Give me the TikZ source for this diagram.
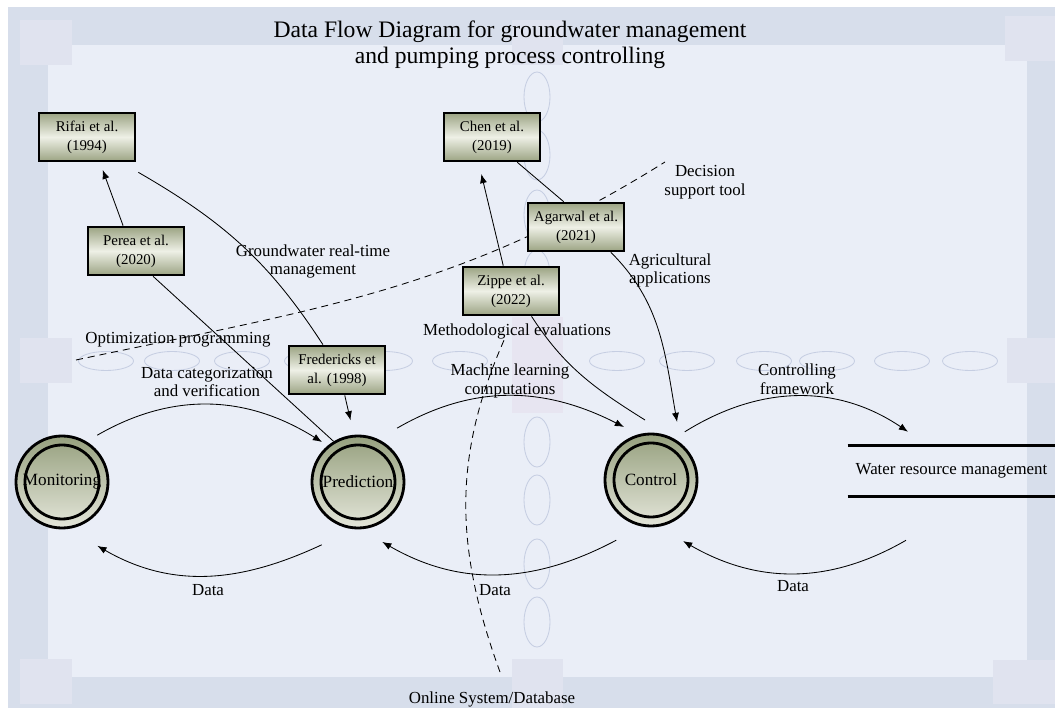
\documentclass[tikz,border=0pt]{standalone}
\usepackage{fontspec}
\setmainfont{Liberation Serif}
\usetikzlibrary{arrows.meta}

\definecolor{bandcol}{RGB}{215,222,235}
\definecolor{innercol}{RGB}{234,238,247}
\definecolor{squarecol}{RGB}{224,227,239}
\definecolor{centercol}{RGB}{231,229,241}
\definecolor{ovalcol}{RGB}{198,206,226}
\definecolor{boxdark}{RGB}{156,164,132}
\definecolor{boxlight}{RGB}{238,240,230}
\definecolor{ringdark}{RGB}{150,160,126}
\definecolor{ringlight}{RGB}{228,230,218}

\tikzset{
	ref/.style={draw=black, line width=1.9pt, minimum width=2.4cm, minimum height=1.2cm, inner sep=0pt,
		top color=boxdark, bottom color=boxdark, middle color=boxlight,
		align=center, font=\rmfamily\fontsize{10.6}{13.5}\selectfont},
	proc/.style={circle, draw=black, line width=2pt, minimum size=2.3cm, inner sep=0pt,
		top color=ringdark, bottom color=ringlight, font=\rmfamily\fontsize{12.2}{14}\selectfont,
		path picture={\draw[line width=2pt, top color=ringdark, bottom color=ringlight]
			(path picture bounding box.center) circle (0.925cm);}},
	flow/.style={line width=0.6pt, -{Latex[length=6.5pt,width=5pt]}},
	link/.style={line width=0.6pt},
	bound/.style={line width=0.6pt, dash pattern=on 5pt off 3.5pt},
	lbl/.style={align=center, inner sep=0pt, font=\rmfamily\fontsize{12}{13.2}\selectfont},
	store/.style={minimum width=5.175cm, minimum height=1.25cm, inner sep=0pt, font=\rmfamily\fontsize{12}{14}\selectfont},
	storeline/.style={line width=2pt},
	oval/.style={draw=ovalcol, line width=0.6pt}
}

\begin{document}
\begin{tikzpicture}[x=0.025cm,y=0.025cm]
	\useasboundingbox (0,0) rectangle (1055,-708);
	\fill[white] (0,0) rectangle (1055,-708);
	\fill[bandcol] (8,-7) rectangle (1055,-708);
	\fill[innercol] (48,-45) rectangle (1027,-677);
	\fill[squarecol] (20,-20) rectangle (72,-65);
	\fill[squarecol] (1005,-16) rectangle (1055,-61);
	\fill[squarecol] (20,-659) rectangle (72,-704);
	\fill[squarecol] (993,-660) rectangle (1055,-704);
	\fill[squarecol] (20,-338) rectangle (72,-383);
	\fill[squarecol] (1007,-338) rectangle (1055,-383);
	\fill[squarecol] (512,-20) rectangle (563,-65);
	\fill[squarecol] (512,-659) rectangle (563,-708);
	\fill[centercol] (512,-317) rectangle (563,-413);
	\foreach \ex in {106,172,242,312,385,460,617,687,764,827,902,970}
		\draw[oval] (\ex,-361) ellipse (27.5 and 9.5);
	\foreach \ey in {97,155,215,275,442,500,564,622}
		\draw[oval] (537,-\ey) ellipse (13 and 25);

	\node[lbl, font=\rmfamily\fontsize{16.8}{18.5}\selectfont] (title) at (510,-44.5) {Data Flow Diagram for groundwater management\\and pumping process controlling};

	\coordinate (optA) at (76,-360);
	\coordinate (optB) at (665,-162);
	\draw[bound] (optA) to[out=12,in=-148] (optB);
	\coordinate (dbA) at (500,-672);
	\coordinate (dbB) at (505,-338);
	\draw[bound] (dbA) to[out=110,in=-114] (dbB);

	\node[ref] (rifai) at (87,-137) {Rifai et al.\\(1994)};
	\node[ref] (perea) at (136,-251) {Perea et al.\\(2020)};
	\node[ref] (chen) at (492,-137) {Chen et al.\\(2019)};
	\node[ref] (agarwal) at (576,-227) {Agarwal et al.\\(2021)};
	\node[ref] (zippe) at (511,-291) {Zippe et al.\\(2022)};
	\node[ref] (fred) at (337,-370) {Fredericks et\\al. (1998)};

	\node[proc] (mon) at (62,-482) {Monitoring};
	\node[proc] (pred) at (358,-482) {Prediction};
	\node[proc] (ctrl) at (651,-480) {Control};

	\node[store] (wrm) at (951.5,-471) {Water resource management};
	\draw[storeline] (wrm.north west) -- (wrm.north east);
	\draw[storeline] (wrm.south west) -- (wrm.south east);

	\draw[flow] ([shift={(53:58.6)}]mon.center) to[out=30,in=148] ([shift={(132:53.8)}]pred.center);
	\draw[flow] ([shift={(240:72.5)}]pred.center) to[out=205,in=330] ([shift={(299:73)}]mon.center);
	\draw[flow] ([shift={(54:66.6)}]pred.center) to[out=30,in=153] ([shift={(117:59.5)}]ctrl.center);
	\draw[flow] ([shift={(240:69.5)}]ctrl.center) to[out=208,in=330] ([shift={(292:64.6)}]pred.center);
	\draw[flow] ([shift={(55:58.8)}]ctrl.center) to[out=32,in=146] ([shift={(-43.5,14)}]wrm.north);
	\draw[flow] ([shift={(-45.5,-44)}]wrm.south) to[out=210,in=330] ([shift={(297.7:69)}]ctrl.center);

	\draw[flow, shorten >=0.2cm] (perea.117) -- (rifai.-63);
	\draw[link] (perea.-56) -- (pred.121);
	\draw[link] ([shift={(2,-10)}]rifai.south east) to[out=-30,in=123] (fred.119);
	\draw[flow, shorten >=0.37cm] (fred.-73) -- (pred.95);
	\draw[flow, shorten >=0.3cm] (zippe.107) -- (chen.-118);
	\draw[link] (chen.-45) -- (agarwal.116);
	\draw[flow] (agarwal.-36) to[out=-45,in=100] ([shift={(65.8:63.6)}]ctrl.center);
	\draw[link] (zippe.-51) to[out=-57,in=148] ([shift={(95.7:60.3)}]ctrl.center);

	\node[lbl] (catLbl) at (207,-382) {Data categorization\\and verification};
	\node[lbl] (gwLbl) at (313,-261.5) {Groundwater real-time\\management};
	\node[lbl] (optLbl) at (178,-340) {Optimization programming};
	\node[lbl] (mlLbl) at (510,-381) {Machine learning\\computations};
	\node[lbl] (methLbl) at (517,-331) {Methodological evaluations};
	\node[lbl] (agriLbl) at (670,-270.5) {Agricultural\\applications};
	\node[lbl] (dstLbl) at (705,-182) {Decision\\support tool};
	\node[lbl] (ctlLbl) at (797,-379) {Controlling\\framework};
	\node[lbl] (dataA) at (208,-590) {Data};
	\node[lbl] (dataB) at (495,-590) {Data};
	\node[lbl] (dataC) at (793,-586) {Data};
	\node[lbl] (dbLbl) at (492,-699) {Online System/Database};
\end{tikzpicture}
\end{document}
